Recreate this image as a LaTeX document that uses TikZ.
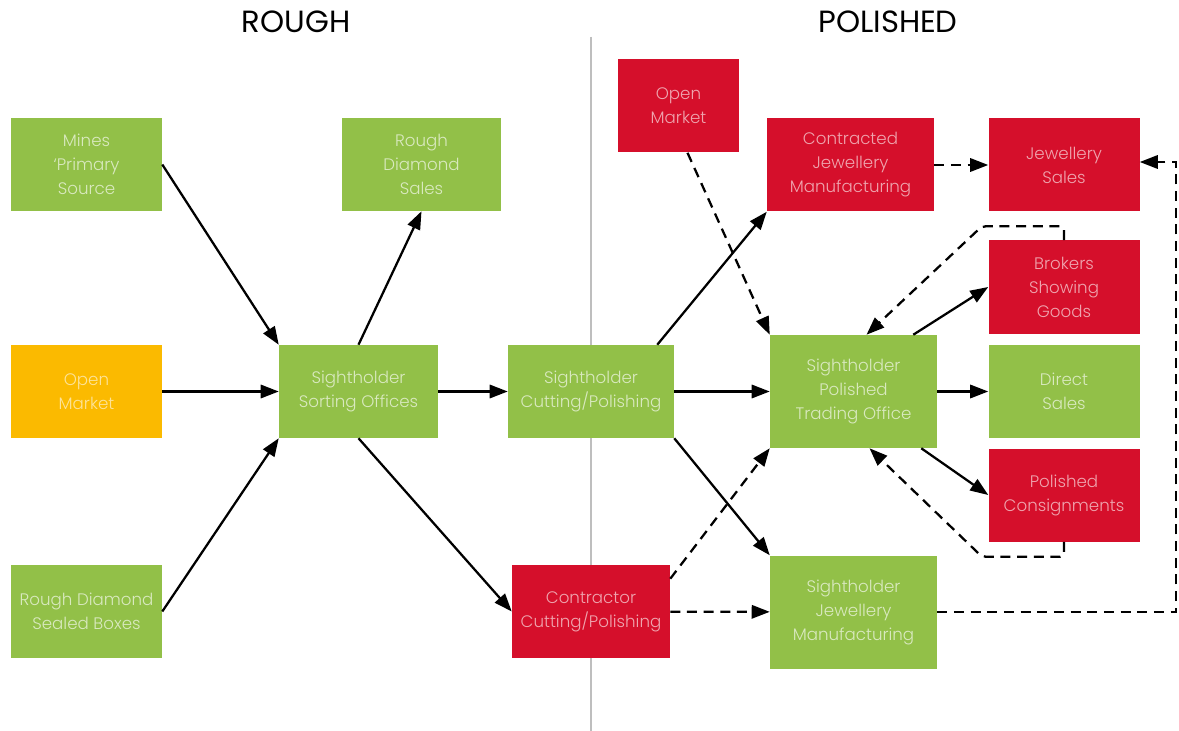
\documentclass[tikz,border=0pt]{standalone}
\usepackage{fontspec}
\setmainfont{Poppins}
\newfontfamily\lightfont{Poppins Light}
\usetikzlibrary{arrows.meta,calc}
\definecolor{vertrough}{RGB}{146,192,72}
\definecolor{rougepolished}{RGB}{213,15,43}
\definecolor{orangemarket}{RGB}{251,186,0}
\definecolor{dividergray}{RGB}{190,190,190}

\begin{document}
\begin{tikzpicture}[
    x=0.75pt,
    y=-0.75pt,
    box/.style={
        rectangle,
        inner sep=0pt,
        minimum width=113.25pt,
        minimum height=69.75pt,
        align=center,
        font=\lightfont\fontsize{12.5}{18}\selectfont
    },
    greenbox/.style={box, fill=vertrough, text=white!65!vertrough},
    redbox/.style={box, fill=rougepolished, text=white!62!rougepolished},
    orangebox/.style={box, fill=orangemarket, text=white!60!orangemarket},
    title/.style={font=\fontsize{23}{27}\selectfont, text=black},
    edge/.style={-{Triangle[length=13.5pt,width=10pt]}, line width=1.7pt},
    dashedge/.style={edge, dash pattern=on 7.5pt off 5pt}
]
\fill[white] (0,0) rectangle (1179,731);
\useasboundingbox (0,0) rectangle (1179,731);

% === Titres ===
\node[title] (roughtitle) at (296,22) {ROUGH};
\node[title] (polishedtitle) at (888,22) {POLISHED};
\coordinate (divtop) at (591,37);
\coordinate (divbottom) at (591,731);
\draw[dividergray, line width=1.8pt] (divtop) -- (divbottom);

% === Rough (gauche) ===
\node[greenbox] (mines) at (86.5,164.5) {Mines\\‘Primary\\Source};
\node[orangebox] (omorange) at (86.5,391.5) {Open\\Market};
\node[greenbox] (boxes) at (86.5,611.5) {Rough Diamond\\Sealed Boxes};
\node[greenbox, minimum width=119.25pt] (rds) at (421.5,164.5) {Rough\\Diamond\\Sales};
\node[greenbox, minimum width=119.25pt] (sorting) at (358.5,391.5) {Sightholder\\Sorting Offices};
\node[greenbox, minimum width=124.5pt] (cutting) at (591,391.5) {Sightholder\\Cutting/Polishing};
\node[redbox, minimum width=118.5pt] (contractor) at (591,611.5) {Contractor\\Cutting/Polishing};

% === Polished (droite) ===
\node[redbox, minimum width=90.75pt] (omred) at (678.5,106) {Open\\Market};
\node[redbox, minimum width=125.25pt] (contracted) at (850.5,165) {Contracted\\Jewellery\\Manufacturing};
\node[redbox] (jsales) at (1064,165) {Jewellery\\Sales};
\node[redbox] (brokers) at (1064,287) {Brokers\\Showing\\Goods};
\node[greenbox, minimum width=125.25pt, minimum height=84.75pt] (trading) at (853.5,391.5) {Sightholder\\Polished\\Trading Office};
\node[greenbox] (direct) at (1064,391.5) {Direct\\Sales};
\node[redbox] (consign) at (1064,495) {Polished\\Consignments};
\node[greenbox, minimum width=125.25pt, minimum height=84.75pt] (sjm) at (853.5,612) {Sightholder\\Jewellery\\Manufacturing};

% === Flux rough ===
\draw[edge] (mines.east) -- (sorting.north west);
\draw[edge] (sorting.north) -- (rds.south);
\draw[edge] (omorange) -- (sorting);
\draw[edge] (boxes.east) -- (sorting.south west);
\draw[edge] (sorting) -- (cutting);
\draw[edge] (sorting.south) -- (contractor.west);

% === Flux polished ===
\draw[edge] ($(cutting.north east)+(-17,0)$) -- (contracted.south west);
\draw[edge] (cutting) -- (trading);
\draw[edge] (cutting.south east) -- (sjm.north west);
\draw[dashedge] ($(contractor.north east)+(0,14)$) -- (trading.south west);
\draw[dashedge] (contractor) -- (sjm);
\draw[dashedge] ($(omred.south)+(9,0)$) -- (trading.north west);
\draw[dashedge] (contracted) -- (jsales);
\draw[edge] ($(trading.north east)+(-24,0)$) -- (brokers.west);
\draw[edge] (trading) -- (direct);
\draw[edge] ($(trading.south east)+(-16,0)$) -- (consign.west);

% Retours en pointillés
\draw[dashedge, rounded corners=3pt] (brokers.north) -- ++(0,-14) -- ++(-82,0) -- ($(trading.north)+(13,0)$);
\draw[dashedge, rounded corners=3pt] (consign.south) -- ++(0,15) -- ++(-82,0) -- ($(trading.south)+(16,0)$);
\draw[dashedge] (sjm.east) -- ++(239,0) |- ($(jsales.east)+(0,-3)$);

\end{tikzpicture}
\end{document}
